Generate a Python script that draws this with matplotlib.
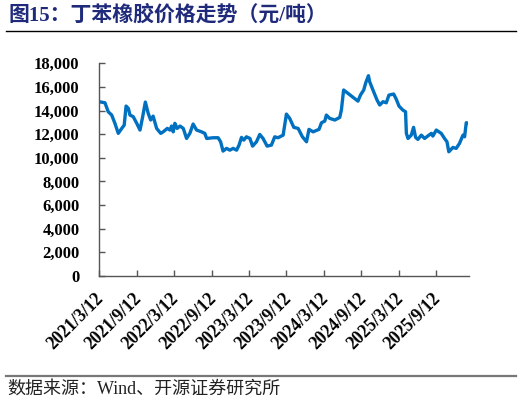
import matplotlib
matplotlib.use("Agg")
import matplotlib.pyplot as plt
import matplotlib.transforms as mtransforms
import pandas as pd
from matplotlib.ticker import FuncFormatter, MultipleLocator

plt.rcParams['font.family'] = ['Noto Sans CJK SC', 'DejaVu Sans']

dates = [
    "2021-03-12", "2021-04-10", "2021-04-26", "2021-05-13", "2021-05-29", "2021-06-14",
    "2021-07-01", "2021-07-13", "2021-07-22", "2021-08-02", "2021-08-10", "2021-08-26",
    "2021-09-12", "2021-09-28", "2021-10-11", "2021-10-24", "2021-11-07", "2021-11-19",
    "2021-12-01", "2021-12-18", "2022-01-07", "2022-01-19", "2022-02-08", "2022-02-21",
    "2022-03-01", "2022-03-09", "2022-03-17", "2022-03-28", "2022-04-11", "2022-04-27",
    "2022-05-13", "2022-05-29", "2022-06-14", "2022-07-01", "2022-07-25", "2022-08-10",
    "2022-08-19", "2022-09-20", "2022-10-14", "2022-10-26", "2022-11-07", "2022-11-24",
    "2022-12-10", "2022-12-26", "2023-01-12", "2023-01-24", "2023-02-05", "2023-02-16",
    "2023-03-01", "2023-03-18", "2023-03-31", "2023-04-19", "2023-05-05", "2023-05-21",
    "2023-06-10", "2023-07-01", "2023-07-17", "2023-08-02", "2023-08-27", "2023-09-12",
    "2023-09-28", "2023-10-18", "2023-11-08", "2023-11-29", "2023-12-19", "2023-12-31",
    "2024-01-20", "2024-02-18", "2024-03-01", "2024-03-17", "2024-03-25", "2024-04-10",
    "2024-05-05", "2024-05-29", "2024-06-06", "2024-06-17", "2024-07-08", "2024-08-02",
    "2024-08-26", "2024-09-07", "2024-09-23", "2024-10-03", "2024-10-16", "2024-10-22",
    "2024-11-07", "2024-11-27", "2024-12-10", "2024-12-26", "2025-01-11", "2025-01-24",
    "2025-02-16", "2025-03-01", "2025-03-14", "2025-04-02", "2025-04-15", "2025-04-19",
    "2025-04-27", "2025-05-13", "2025-05-24", "2025-06-03", "2025-06-14", "2025-07-01",
    "2025-07-17", "2025-08-07", "2025-08-19", "2025-08-26", "2025-09-12", "2025-10-06",
    "2025-10-22", "2025-11-03", "2025-11-12", "2025-12-02", "2025-12-18", "2026-01-03",
    "2026-01-20", "2026-01-28", "2026-02-05", "2026-02-16",
]
prices = [
    14750, 14660, 13900, 13620, 12900, 12070,
    12490, 12770, 14380, 14190, 13620, 13480,
    12920, 12350, 13480, 14720, 13760, 13200,
    13530, 12490, 12070, 12200, 12490, 12350,
    12690, 12200, 12920, 12490, 12690, 12490,
    11640, 12070, 12860, 12350, 12200, 12070,
    11640, 11700, 11700, 11360, 10570, 10800,
    10650, 10800, 10650, 11080, 11730, 11500,
    11780, 11640, 10990, 11360, 11980, 11640,
    10990, 11080, 11780, 11700, 11920, 13700,
    13340, 12580, 12490, 11780, 11360, 12410,
    12200, 12410, 12970, 13110, 13620, 13340,
    13200, 13420, 14040, 15740, 15460, 15120,
    14800, 15310, 15740, 16360, 16950, 16440,
    15740, 14890, 14470, 14750, 14660, 15310,
    15400, 14950, 14380, 14040, 13900, 12070,
    11640, 11920, 12580, 11730, 11560, 11920,
    11640, 11920, 12070, 11840, 12350, 12070,
    11640, 11360, 10510, 10880, 10800, 11220,
    11920, 11780, 12970, 12920,
]
tick_dates = ["2021-03-12", "2021-09-12", "2022-03-12", "2022-09-12", "2023-03-12",
              "2023-09-12", "2024-03-12", "2024-09-12", "2025-03-12", "2025-09-12"]
tick_labels = ["2021/3/12", "2021/9/12", "2022/3/12", "2022/9/12", "2023/3/12",
               "2023/9/12", "2024/3/12", "2024/9/12", "2025/3/12", "2025/9/12"]

title = "图15：丁苯橡胶价格走势（元/吨）"
source = "数据来源：Wind、开源证券研究所"

x = pd.to_datetime(dates)
ticks = pd.to_datetime(tick_dates)

fig = plt.figure(figsize=(5.22, 4.05), dpi=100)
ax = fig.add_axes([99/522, 1-276/405, (468.5-99)/522, (276-63.3)/405])

ax.plot(x, prices, color='#0070C0', linewidth=2.4, solid_joinstyle='round')

ax.set_ylim(0, 18000)
ax.yaxis.set_major_locator(MultipleLocator(2000))
ax.yaxis.set_major_formatter(FuncFormatter(lambda v, p: f"{int(v):,}"))
ax.set_xlim(x[0], x[-1])
ax.set_xticks(ticks)
ax.set_xticklabels(tick_labels)

for s in ['top', 'right']:
    ax.spines[s].set_visible(False)
for s in ['left', 'bottom']:
    ax.spines[s].set_color('#555555')
    ax.spines[s].set_linewidth(1.0)

ax.tick_params(axis='both', direction='in', length=4, color='#555555', width=1)
ax.tick_params(axis='y', pad=14)
ax.tick_params(axis='x', pad=10)

for lab in ax.get_yticklabels():
    lab.set_fontfamily('Liberation Serif')
    lab.set_fontweight('bold')
    lab.set_fontsize(12)
offset = mtransforms.ScaledTranslation(-4/100, 0, fig.dpi_scale_trans)
for lab in ax.get_xticklabels():
    lab.set_fontfamily('Liberation Serif')
    lab.set_fontweight('bold')
    lab.set_fontsize(12.8)
    lab.set_rotation(45)
    lab.set_ha('right')
    lab.set_va('top')
    lab.set_rotation_mode('anchor')
    lab.set_transform(lab.get_transform() + offset)

fig.text(8/522, 1-15/405, title, fontsize=15, fontweight='bold', color='#1F2A7A',
         ha='left', va='center', family=['Liberation Serif', 'Noto Sans CJK SC'])
fig.add_artist(plt.Line2D([6/522, 516/522], [1-31/405, 1-31/405], color='black', linewidth=1.0))
fig.add_artist(plt.Line2D([6/522, 516/522], [1-375.5/405, 1-375.5/405], color='#777777', linewidth=1.6))
fig.text(7/522, 1-389/405, source, fontsize=13, color='#222222', ha='left', va='center',
         family=['Liberation Serif', 'Noto Sans CJK SC'])

fig.savefig("out.png", dpi=100)
